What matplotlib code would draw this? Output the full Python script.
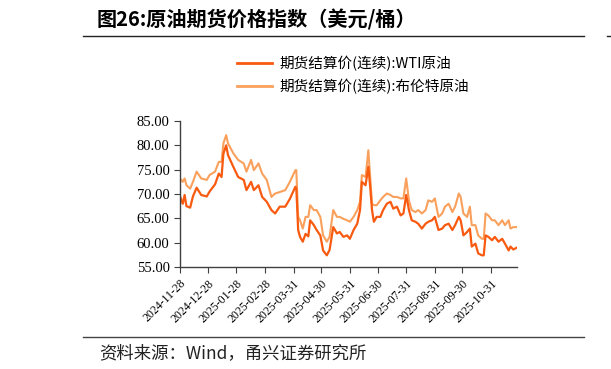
import matplotlib
matplotlib.use("Agg")
import matplotlib.pyplot as plt
from matplotlib.lines import Line2D
import numpy as np
import pandas as pd

plt.rcParams['font.family'] = ['Noto Sans CJK SC', 'DejaVu Sans']

# 数据：起始日 2024-11-28 之后的天数
start_date = "2024-11-28"
day_offsets = [0, 3, 5, 7, 11, 14, 18, 23, 29, 32, 38, 42, 45, 47, 50, 52, 58, 63, 69, 72,
               77, 80, 85, 89, 94, 99, 103, 108, 114, 119, 125, 126, 128, 130, 133, 136, 139, 141, 145, 148,
               152, 155, 159, 162, 166, 170, 173, 177, 181, 184, 188, 192, 195, 197, 201, 204, 206, 208, 210, 213,
               217, 220, 224, 228, 231, 235, 239, 242, 245, 248, 251, 255, 258, 262, 266, 269, 273, 276, 280, 284,
               287, 291, 295, 298, 302, 304, 307, 311, 314, 316, 320, 323, 327, 329, 331, 334, 338, 341, 345, 349,
               352, 356, 358, 361, 365]

wti = [69.5, 68.0, 69.8, 67.5, 67.2, 69.5, 71.3, 69.8, 69.5, 70.5, 72.0, 74.2, 73.5, 78.3, 80.0, 78.0, 75.5, 73.5, 72.9, 70.8,
       72.5, 70.8, 71.8, 69.4, 68.4, 66.7, 66.0, 67.4, 67.4, 69.0, 71.5, 71.1, 62.6, 61.2, 60.2, 61.8, 61.3, 64.6, 63.6, 62.6,
       61.5, 58.4, 57.4, 58.5, 63.2, 61.9, 62.2, 61.2, 61.5, 60.8, 62.6, 63.9, 66.7, 72.5, 71.8, 75.6, 71.5, 66.7, 64.3, 65.3,
       65.3, 66.7, 68.0, 68.4, 67.0, 67.4, 65.6, 66.0, 69.8, 66.7, 64.6, 64.3, 63.9, 62.9, 63.9, 64.3, 64.6, 65.3, 62.6, 62.9,
       63.6, 63.9, 62.6, 63.6, 65.3, 64.6, 61.5, 62.2, 62.9, 59.2, 59.8, 57.8, 57.4, 57.4, 61.5, 61.2, 60.5, 61.2, 60.2, 60.8,
       59.8, 58.4, 59.2, 58.6, 59.0]

brent = [73.2, 72.5, 73.2, 71.8, 71.1, 72.5, 74.6, 73.2, 72.9, 73.9, 74.6, 76.6, 76.6, 80.4, 82.1, 80.4, 78.3, 77.0, 76.3, 74.6,
         77.0, 74.9, 76.3, 74.2, 72.9, 69.4, 70.1, 70.4, 70.8, 72.5, 74.9, 74.9, 65.3, 64.6, 62.9, 65.3, 65.3, 67.7, 66.7, 66.7,
         65.3, 61.5, 60.2, 61.2, 66.7, 65.3, 65.3, 64.9, 64.6, 64.3, 65.3, 66.7, 68.4, 73.9, 73.5, 79.0, 73.5, 68.0, 67.7, 67.7,
         68.7, 69.4, 70.1, 69.8, 69.4, 69.4, 69.1, 69.1, 73.2, 68.7, 66.7, 66.3, 66.7, 66.0, 66.7, 68.7, 68.4, 69.1, 65.3, 66.0,
         67.4, 68.0, 66.3, 67.4, 70.1, 69.4, 66.0, 65.3, 67.4, 63.6, 63.6, 61.5, 60.8, 60.8, 66.0, 65.6, 64.6, 64.6, 63.6, 64.6,
         63.6, 64.6, 62.9, 63.2, 63.2]

tick_dates = ["2024-11-28", "2024-12-28", "2025-01-28", "2025-02-28", "2025-03-31", "2025-04-30",
              "2025-05-31", "2025-06-30", "2025-07-31", "2025-08-31", "2025-09-30", "2025-10-31"]

labels = ["期货结算价(连续):WTI原油", "期货结算价(连续):布伦特原油"]
colors = ["#F85A10", "#F9A05C"]

dates = pd.Timestamp(start_date) + pd.to_timedelta(day_offsets, unit="D")

fig = plt.figure(figsize=(6.11, 3.69), dpi=100)
ax = fig.add_axes([0.2946, 0.2764, 0.5515, 0.3956])

ax.plot(dates, brent, color=colors[1], linewidth=1.5)
ax.plot(dates, wti, color=colors[0], linewidth=1.6)

ax.set_ylim(55, 85)
ax.set_yticks(np.arange(55, 86, 5))
ax.yaxis.set_major_formatter(matplotlib.ticker.FormatStrFormatter('%.2f'))
ax.set_xlim(pd.Timestamp(start_date), dates[-1])
ax.set_xticks(pd.to_datetime(tick_dates))
ax.set_xticklabels(tick_dates, rotation=45, ha='right', rotation_mode='anchor')

for side in ['top', 'right']:
    ax.spines[side].set_visible(False)
for side in ['left', 'bottom']:
    ax.spines[side].set_color('#404040')
    ax.spines[side].set_linewidth(1.0)
ax.tick_params(axis='both', direction='out', length=4, width=0.8, color='#404040')
for lab in ax.get_yticklabels():
    lab.set_family('Liberation Serif')
    lab.set_fontsize(10.5)
for lab in ax.get_xticklabels():
    lab.set_family('Liberation Serif')
    lab.set_fontsize(8.5)

# 图例
handles = [Line2D([], [], color=c, linewidth=2) for c in colors]
leg = fig.legend(handles, labels, loc='upper left', bbox_to_anchor=(0.366, 0.885),
                 frameon=False, fontsize=10.5, handlelength=2.4, labelspacing=0.55, handletextpad=0.5)

# 标题与分隔线
fig.text(0.158, 0.945, "图26:原油期货价格指数（美元/桶）", fontsize=14.5, fontweight='bold',
         va='center', ha='left')
fig.add_artist(Line2D([0.136, 0.955], [0.903, 0.903], color='#222222', linewidth=1.0))
fig.add_artist(Line2D([0.993, 1.0], [0.903, 0.903], color='#222222', linewidth=1.0))
fig.add_artist(Line2D([0.136, 0.955], [0.087, 0.087], color='#444444', linewidth=1.0))
fig.text(0.163, 0.043, "资料来源：Wind，甬兴证券研究所", fontsize=12.5, va='center', ha='left',
         color='#222222')

fig.savefig("out.png", dpi=100)
